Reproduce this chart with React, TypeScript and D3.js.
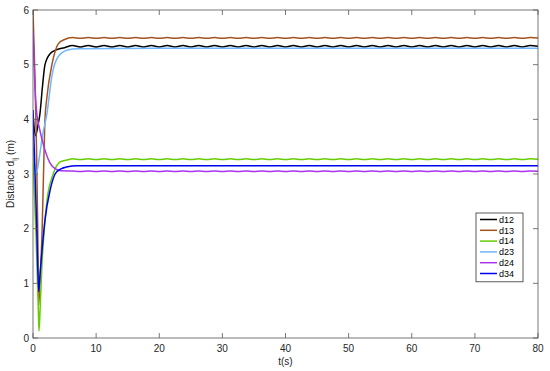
import * as d3 from "d3";

// steady-state sample times (s)
const tSteady = [6.25, 7.5, 8.75, 10, 11.25, 12.5, 13.75, 15, 16.25, 17.5, 18.75, 20, 21.25, 22.5, 23.75, 25, 26.25, 27.5, 28.75, 30, 31.25, 32.5, 33.75, 35, 36.25, 37.5, 38.75, 40, 41.25, 42.5, 43.75, 45, 46.25, 47.5, 48.75, 50, 51.25, 52.5, 53.75, 55, 56.25, 57.5, 58.75, 60, 61.25, 62.5, 63.75, 65, 66.25, 67.5, 68.75, 70, 71.25, 72.5, 73.75, 75, 76.25, 77.5, 78.75, 80];

// d12
const t12 = [0, 0.4, 0.8, 1.1, 1.5, 1.9, 2.7, 3.7, 5];
const v12 = [4.1, 3.7, 3.9, 4.1, 4.6, 5.0, 5.2, 5.27, 5.31];
const w12 = [5.35, 5.325, 5.35, 5.325, 5.35, 5.325, 5.35, 5.325, 5.35, 5.325, 5.35, 5.325, 5.35, 5.325, 5.35, 5.325, 5.35, 5.325, 5.35, 5.325, 5.35, 5.325, 5.35, 5.325, 5.35, 5.325, 5.35, 5.325, 5.35, 5.325, 5.35, 5.325, 5.35, 5.325, 5.35, 5.325, 5.35, 5.325, 5.35, 5.325, 5.35, 5.325, 5.35, 5.325, 5.35, 5.325, 5.35, 5.325, 5.35, 5.325, 5.35, 5.325, 5.35, 5.325, 5.35, 5.325, 5.35, 5.325, 5.35, 5.335];

// d13
const t13 = [0, 0.3, 0.55, 0.75, 0.9, 1.1, 1.45, 1.75, 1.9, 2.2, 3.0, 4.0, 5.0];
const v13 = [6.0, 4.8, 3.5, 2.0, 0.6, 1.0, 2.0, 3.4, 4.0, 4.4, 5.0, 5.38, 5.46];
const w13 = [5.495, 5.485, 5.495, 5.485, 5.495, 5.485, 5.495, 5.485, 5.495, 5.485, 5.495, 5.485, 5.495, 5.485, 5.495, 5.485, 5.495, 5.485, 5.495, 5.485, 5.495, 5.485, 5.495, 5.485, 5.495, 5.485, 5.495, 5.485, 5.495, 5.485, 5.495, 5.485, 5.495, 5.485, 5.495, 5.485, 5.495, 5.485, 5.495, 5.485, 5.495, 5.485, 5.495, 5.485, 5.495, 5.485, 5.495, 5.485, 5.495, 5.485, 5.495, 5.485, 5.495, 5.485, 5.495, 5.485, 5.495, 5.485, 5.495, 5.49];

// d14
const t14 = [0, 0.5, 0.85, 0.95, 1.15, 1.4, 1.8, 2.2, 3.2, 4.3, 5.5];
const v14 = [3.3, 1.8, 0.5, 0.13, 0.6, 1.3, 2.0, 2.5, 3.0, 3.22, 3.26];
const w14 = [3.277, 3.265, 3.277, 3.265, 3.277, 3.265, 3.277, 3.265, 3.277, 3.265, 3.277, 3.265, 3.277, 3.265, 3.277, 3.265, 3.277, 3.265, 3.277, 3.265, 3.277, 3.265, 3.277, 3.265, 3.277, 3.265, 3.277, 3.265, 3.277, 3.265, 3.277, 3.265, 3.277, 3.265, 3.277, 3.265, 3.277, 3.265, 3.277, 3.265, 3.277, 3.265, 3.277, 3.265, 3.277, 3.265, 3.277, 3.265, 3.277, 3.265, 3.277, 3.265, 3.277, 3.265, 3.277, 3.265, 3.277, 3.265, 3.277, 3.27];

// d23
const t23 = [0, 0.5, 1.0, 1.5, 2.2, 3.0, 4.0, 5.5, 7, 20, 40, 60, 80];
const v23 = [3.5, 3.0, 3.3, 3.7, 4.1, 4.8, 5.15, 5.27, 5.29, 5.3, 5.3, 5.3, 5.3];

// d24
const t24 = [0, 0.3, 0.6, 1.0, 1.5, 2.0, 2.7, 3.5, 4.5];
const v24 = [5.6, 4.6, 4.1, 3.85, 3.6, 3.4, 3.2, 3.1, 3.06];
const w24 = [3.054, 3.046, 3.054, 3.046, 3.054, 3.046, 3.054, 3.046, 3.054, 3.046, 3.054, 3.046, 3.054, 3.046, 3.054, 3.046, 3.054, 3.046, 3.054, 3.046, 3.054, 3.046, 3.054, 3.046, 3.054, 3.046, 3.054, 3.046, 3.054, 3.046, 3.054, 3.046, 3.054, 3.046, 3.054, 3.046, 3.054, 3.046, 3.054, 3.046, 3.054, 3.046, 3.054, 3.046, 3.054, 3.046, 3.054, 3.046, 3.054, 3.046, 3.054, 3.046, 3.054, 3.046, 3.054, 3.046, 3.054, 3.046, 3.054, 3.05];

// d34
const t34 = [0, 0.6, 0.9, 1.1, 1.5, 1.9, 2.7, 3.75, 5.3, 7, 20, 40, 60, 80];
const v34 = [4.17, 2.0, 0.85, 1.15, 1.7, 2.16, 2.7, 3.04, 3.13, 3.15, 3.15, 3.15, 3.15, 3.15];

const seriesNames = ["d12", "d13", "d14", "d23", "d24", "d34"];
const colors = ["#000000", "#a4531f", "#66cc00", "#6fb7ff", "#aa33ee", "#0000f0"];
const xTicks = [0, 10, 20, 30, 40, 50, 60, 70, 80];
const yTicks = [0, 1, 2, 3, 4, 5, 6];

export default function App() {
  const width = 550;
  const height = 371;
  const left = 33, right = 538, top = 10, bottom = 338;

  const x = d3.scaleLinear([0, 80], [left, right]);
  const y = d3.scaleLinear([0, 6], [bottom, top]);

  const series = [
    { t: t12.concat(tSteady), v: v12.concat(w12) },
    { t: t13.concat(tSteady), v: v13.concat(w13) },
    { t: t14.concat(tSteady), v: v14.concat(w14) },
    { t: t23, v: v23 },
    { t: t24.concat(tSteady), v: v24.concat(w24) },
    { t: t34, v: v34 },
  ];

  const line = d3.line<number>().curve(d3.curveMonotoneX);

  const font = "'Liberation Sans', Arial, sans-serif";
  const axisColor = "#555";

  const legX = 476, legY = 213, legW = 47, rowH = 10.8;

  return (
    <svg
      width={width}
      height={height}
      style={{ position: "absolute", left: 0, top: 0, background: "#fff" }}
      fontFamily={font}
    >
      <defs>
        <clipPath id="plot">
          <rect x={left} y={top - 2} width={right - left} height={bottom - top + 2} />
        </clipPath>
      </defs>
      <rect x={0} y={0} width={width} height={height} fill="#fff" />

      {/* curves */}
      <g clipPath="url(#plot)" fill="none" strokeWidth={1.5} strokeLinejoin="round">
        {series.map((s, i) => (
          <path
            key={seriesNames[i]}
            stroke={colors[i]}
            d={line.x((_, j) => x(s.t[j])).y((d) => y(d))(s.v) ?? ""}
          />
        ))}
      </g>

      {/* box */}
      <rect
        x={left}
        y={top}
        width={right - left}
        height={bottom - top}
        fill="none"
        stroke={axisColor}
        strokeWidth={0.8}
      />

      {/* ticks */}
      <g stroke={axisColor} strokeWidth={0.8}>
        {xTicks.map((t) => (
          <g key={t}>
            <line x1={x(t)} x2={x(t)} y1={bottom} y2={bottom - 5} />
            <line x1={x(t)} x2={x(t)} y1={top} y2={top + 5} />
          </g>
        ))}
        {yTicks.map((t) => (
          <g key={t}>
            <line x1={left} x2={left + 5} y1={y(t)} y2={y(t)} />
            <line x1={right} x2={right - 5} y1={y(t)} y2={y(t)} />
          </g>
        ))}
      </g>

      <g fontSize={10} fill="#262626">
        {xTicks.map((t) => (
          <text key={t} x={x(t)} y={bottom + 14} textAnchor="middle">
            {t}
          </text>
        ))}
        {yTicks.map((t) => (
          <text key={t} x={left - 4} y={y(t) + 3.5} textAnchor="end">
            {t}
          </text>
        ))}
        <text x={(left + right) / 2} y={bottom + 27} textAnchor="middle">
          t(s)
        </text>
        <text
          transform={`translate(14,${(top + bottom) / 2}) rotate(-90)`}
          textAnchor="middle"
        >
          Distance d
          <tspan fontSize={7} dy={2.5}>ij</tspan>
          <tspan dy={-2.5}> (m)</tspan>
        </text>
      </g>

      {/* legend */}
      <g>
        <rect
          x={legX}
          y={legY}
          width={legW}
          height={rowH * seriesNames.length + 4}
          fill="#fff"
          stroke="#333"
          strokeWidth={0.8}
        />
        {seriesNames.map((n, i) => {
          const cy = legY + 6.5 + i * rowH;
          return (
            <g key={n}>
              <line x1={legX + 4} x2={legX + 21} y1={cy} y2={cy} stroke={colors[i]} strokeWidth={1.5} />
              <text x={legX + 23} y={cy + 3.3} fontSize={9} fill="#000">
                {n}
              </text>
            </g>
          );
        })}
      </g>
    </svg>
  );
}
